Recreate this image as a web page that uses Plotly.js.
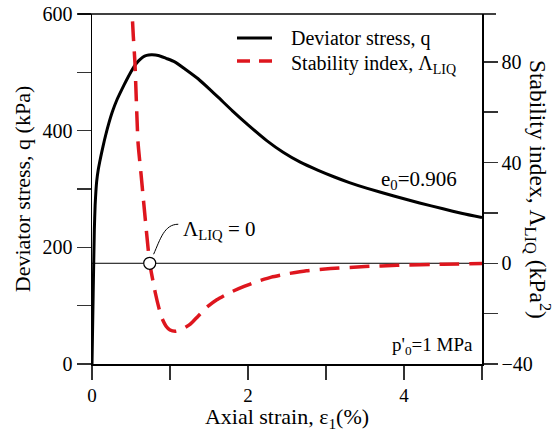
<!DOCTYPE html>
<html>
<head>
<meta charset="utf-8">
<script src="https://cdn.plot.ly/plotly-3.0.1.min.js"></script>
<style>html,body{margin:0;padding:0;background:#fff;}#chart{width:560px;height:432px;}</style>
</head>
<body>
<div id="chart"></div>
<script>
// Deviator stress q (kPa) vs axial strain (%)
var strainQ = [0, 0.015, 0.03, 0.04, 0.05, 0.06, 0.08, 0.1, 0.123, 0.16, 0.21, 0.26, 0.32, 0.38, 0.44, 0.50, 0.55, 0.60, 0.65, 0.70, 0.76, 0.85, 0.95, 1.06, 1.2, 1.36, 1.5, 1.62, 1.8, 2.0, 2.24, 2.45, 2.67, 2.9, 3.1, 3.3, 3.53, 3.87, 4.2, 4.5, 4.75, 5.0];
var qValues = [0, 120, 230, 272, 296, 313, 333, 347, 362, 384, 410, 432, 453, 470, 486, 501, 512, 520, 526, 529, 530, 529, 524, 518, 505, 489, 472, 457, 434, 410, 383, 363, 346, 332, 321, 311, 301, 288, 276, 266, 258, 251];

// Stability index Lambda_LIQ (kPa^2) vs axial strain (%)
var strainL = [0.50, 0.53, 0.55, 0.59, 0.63, 0.66, 0.70, 0.74, 0.81, 0.86, 0.90, 0.95, 1.0, 1.07, 1.15, 1.26, 1.36, 1.47, 1.6, 1.77, 1.95, 2.11, 2.3, 2.5, 2.75, 3.06, 3.5, 3.91, 4.5, 5.0];
var lambdaValues = [108, 90, 80, 48, 35, 25, 12, 0, -11.5, -18, -22, -25, -26.5, -27, -26.3, -24.2, -21, -17.5, -14.5, -11.6, -9.2, -7.3, -5.5, -4.2, -3.0, -2.1, -1.3, -0.8, -0.4, -0.1];

// Point where Lambda_LIQ = 0
var crossStrain = [0.74];
var crossLambda = [0];

var xTickVals = [0, 2, 4];
var xTickText = ['0', '2', '4'];
var yTickVals = [0, 200, 400, 600];
var y2TickVals = [-40, 0, 40, 80];
var y2TickText = ['\u221240', '0', '40', '80'];

var FONT = 'Liberation Serif, Times New Roman, serif';
var RED = 'rgb(222,22,30)';

var traces = [
  {x: strainQ, y: qValues, type: 'scatter', mode: 'lines', name: 'Deviator stress, q',
   line: {color: 'black', width: 3, shape: 'spline', smoothing: 0.5}, yaxis: 'y', showlegend: false, hoverinfo: 'skip'},
  {x: strainL, y: lambdaValues, type: 'scatter', mode: 'lines', name: 'Stability index',
   line: {color: RED, width: 3.5, dash: '20px,10px', shape: 'spline', smoothing: 0.5}, yaxis: 'y2', showlegend: false, hoverinfo: 'skip'},
  {x: crossStrain, y: crossLambda, type: 'scatter', mode: 'markers', yaxis: 'y2', showlegend: false,
   marker: {symbol: 'circle', size: 12, color: 'white', line: {color: 'black', width: 1.2}}, hoverinfo: 'skip'}
];

var W = 390, H = 350, L = 92, T = 14;
function px(p) { return (p - L) / W; }
function py(p) { return (T + H - p) / H; }

var axisCommon = {
  showline: true, linecolor: 'black', linewidth: 1.5, ticks: 'outside', ticklen: 14, tickwidth: 1.5,
  tickcolor: '#333', showgrid: false, zeroline: false, tickfont: {family: FONT, size: 20, color: 'black'}
};

var layout = {
  width: 560, height: 432,
  margin: {l: L, r: 560 - L - W, t: T, b: 432 - T - H},
  paper_bgcolor: 'white', plot_bgcolor: 'white',
  font: {family: FONT, color: 'black'},
  xaxis: Object.assign({}, axisCommon, {
    range: [0, 5], tickvals: xTickVals, ticktext: xTickText,
    tickfont: {family: FONT, size: 19, color: 'black'},
    minor: {dtick: 1, ticks: 'outside', ticklen: 14, tickwidth: 1.5, tickcolor: '#333'},
    title: {text: 'Axial strain, \u03b5<sub>1</sub>(%)', font: {family: FONT, size: 22, color: 'black'}, standoff: 5}
  }),
  yaxis: Object.assign({}, axisCommon, {
    range: [0, 600], tickvals: yTickVals,
    minor: {dtick: 100, ticks: 'outside', ticklen: 14, tickwidth: 1.5, tickcolor: '#333'},
    title: {text: 'Deviator stress, q (kPa)', font: {family: FONT, size: 22, color: 'black'}, standoff: 6}
  }),
  yaxis2: Object.assign({}, axisCommon, {
    overlaying: 'y', side: 'right', range: [-40, 99], tickvals: y2TickVals, ticktext: y2TickText,
    minor: {dtick: 20, ticks: 'outside', ticklen: 14, tickwidth: 1.5, tickcolor: '#333'}
  }),
  shapes: [
    {type: 'line', xref: 'paper', yref: 'paper', x0: -14 / W, x1: 1 + 14 / W, y0: 1, y1: 1, line: {color: 'black', width: 1.5}},
    {type: 'line', xref: 'x', yref: 'y2', x0: 0, x1: 5, y0: 0, y1: 0, line: {color: 'black', width: 1}, layer: 'below'},
    {type: 'path', xref: 'x', yref: 'y2', path: 'M 0.79,3.6 C 0.875,9.5 0.926,15.5 1.106,15.5', line: {color: 'black', width: 1}},
    // custom legend samples
    {type: 'line', xref: 'paper', yref: 'paper', x0: px(237), x1: px(272), y0: py(38), y1: py(38), line: {color: 'black', width: 3}},
    {type: 'line', xref: 'paper', yref: 'paper', x0: px(237), x1: px(250), y0: py(61), y1: py(61), line: {color: RED, width: 3.5}},
    {type: 'line', xref: 'paper', yref: 'paper', x0: px(259), x1: px(272), y0: py(61), y1: py(61), line: {color: RED, width: 3.5}}
  ],
  annotations: [
    {xref: 'paper', yref: 'paper', x: px(289), y: py(38), xanchor: 'left', yanchor: 'middle', showarrow: false,
     text: 'Deviator stress, q', font: {family: FONT, size: 20, color: 'black'}},
    {xref: 'paper', yref: 'paper', x: px(289), y: py(64), xanchor: 'left', yanchor: 'middle', showarrow: false,
     text: 'Stability index, \u039b<sub>LIQ</sub>', font: {family: FONT, size: 20, color: 'black'}},
    {xref: 'paper', yref: 'paper', x: px(459), y: py(180), xanchor: 'right', yanchor: 'middle', showarrow: false,
     text: 'e<sub>0</sub>=0.906', font: {family: FONT, size: 21, color: 'black'}},
    {xref: 'paper', yref: 'paper', x: px(475), y: py(346), xanchor: 'right', yanchor: 'middle', showarrow: false,
     text: "p'<sub>0</sub>=1 MPa", font: {family: FONT, size: 19, color: 'black'}},
    {xref: 'paper', yref: 'paper', x: px(181), y: py(230), xanchor: 'left', yanchor: 'middle', showarrow: false,
     text: '\u039b<sub>LIQ</sub> = 0', font: {family: FONT, size: 21, color: 'black'}},
    {xref: 'paper', yref: 'paper', x: px(538), y: py(189), xanchor: 'center', yanchor: 'middle', showarrow: false, textangle: 90,
     text: 'Stability index, \u039b<sub>LIQ</sub> (kPa<sup>2</sup>)', font: {family: FONT, size: 23.5, color: 'black'}}
  ]
};

Plotly.newPlot('chart', traces, layout, {displayModeBar: false, staticPlot: true});
</script>
</body>
</html>
